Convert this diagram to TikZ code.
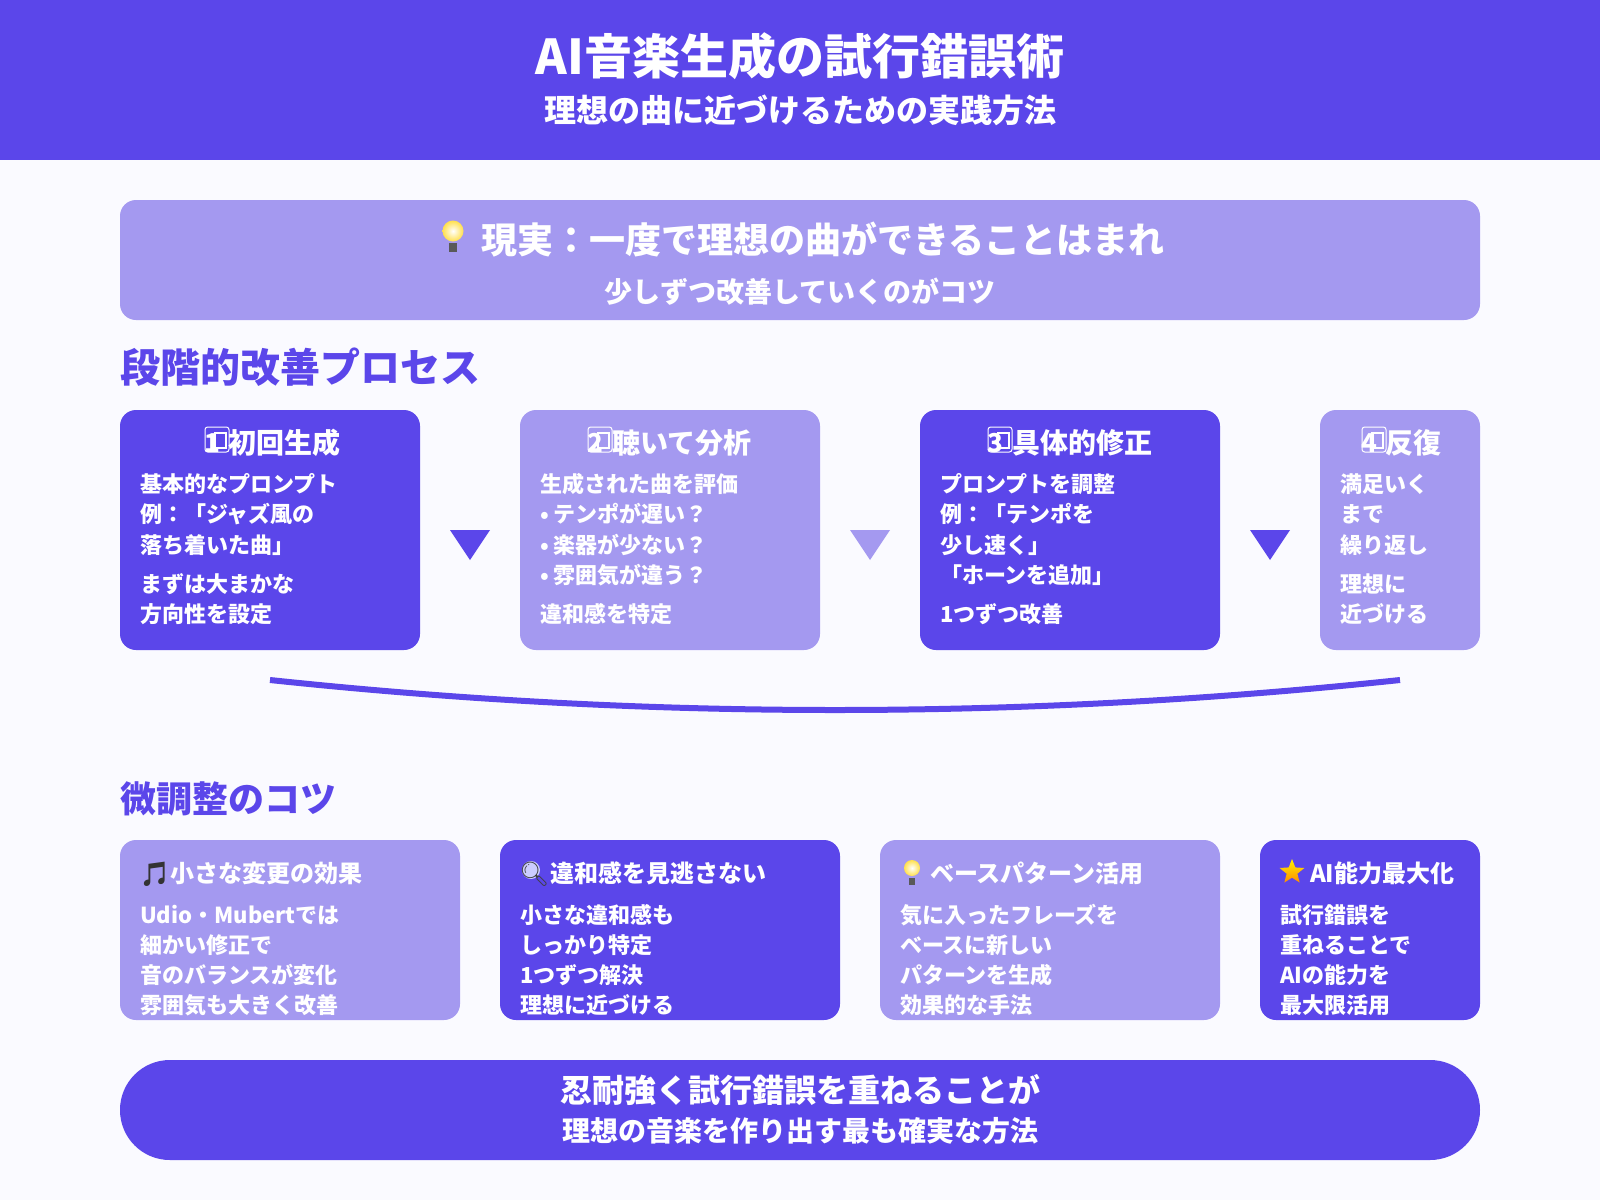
\documentclass[tikz,border=0pt]{standalone}
\usepackage{fontspec}
\setmainfont{Noto Sans CJK JP}
\newfontfamily\emojifont{Noto Emoji}
\usetikzlibrary{shapes.geometric}
\definecolor{deep}{HTML}{5B46EA}
\definecolor{soft}{HTML}{A499F0}
\definecolor{paper}{HTML}{FAFAFF}
\newcommand{\px}[1]{\fontsize{\fpeval{#1*0.75}}{\fpeval{#1*0.9}}\selectfont\bfseries}
\tikzset{
  x=0.75pt,y=-0.75pt,
  panel/.style={anchor=north west,inner sep=0,outer sep=0,rounded corners=12pt},
  deepbox/.style={panel,fill=deep},
  softbox/.style={panel,fill=soft},
  line/.style={anchor=base west,inner sep=0,outer sep=0,text=white},
  mid/.style={anchor=base,inner sep=0,outer sep=0,text=white},
  headingtext/.style={line,text=deep},
  body/.style={line,font=\px{22}},
  cardtitle/.style={line,font=\px{24}},
  steptitle/.style={line,font=\px{28}},
  pointer/.style={draw=none},
  capline/.style={draw=white,line width=0.75pt,rounded corners=2pt},
  capinner/.style={draw=white,line width=1.7pt},
}
\newcommand{\keycap}[3]{%
  \node[line,font=\px{26}] (#2) at (#1-1,452) {#3};
  \draw[capline] (#1,427) rectangle (#1+24,452);
  \draw[capinner] (#1+10,433) rectangle (#1+21,448);
}
\begin{document}
\begin{tikzpicture}
\useasboundingbox (0,0) rectangle (1600,1200);
\fill[paper] (0,0) rectangle (1600,1200);
\node[panel,fill=deep,rounded corners=0pt,minimum width=1200pt,minimum height=120pt] (header) at (0,0) {};
\node[mid,font=\px{48}] (title) at (800,74) {AI音楽生成の試行錯誤術};
\node[mid,font=\px{32}] (subtitle) at (800,122) {理想の曲に近づけるための実践方法};

\node[softbox,minimum width=1020pt,minimum height=90pt] (banner) at (120,200) {};
\shade[inner color=white,outer color=yellow!65!orange!70!white] (453,231) circle (10.5);
\fill[gray!70!black] (449,243) rectangle (457,252);
\node[line,font=\px{36}] (bannerone) at (481,253) {現実：一度で理想の曲ができることはまれ};
\node[mid,font=\px{28}] (bannertwo) at (800,302) {少しずつ改善していくのがコツ};

\node[headingtext,font=\px{40}] (headone) at (120,382) {段階的改善プロセス};

\node[deepbox,minimum width=225pt,minimum height=180pt] (s1) at (120,410) {};
\node[softbox,minimum width=225pt,minimum height=180pt] (s2) at (520,410) {};
\node[deepbox,minimum width=225pt,minimum height=180pt] (s3) at (920,410) {};
\node[softbox,minimum width=120pt,minimum height=180pt] (s4) at (1320,410) {};

\keycap{205}{k1}{1}
\node[steptitle] (t1) at (228,453) {初回生成};
\keycap{588}{k2}{2}
\node[steptitle] (t2) at (612,453) {聴いて分析};
\keycap{988}{k3}{3}
\node[steptitle] (t3) at (1012,453) {具体的修正};
\keycap{1362}{k4}{4}
\node[steptitle] (t4) at (1385,453) {反復};

\node[body] (a1) at (140,492) {基本的なプロンプト};
\node[body] (a2) at (140,522.5) {例：「ジャズ風の};
\node[body] (a3) at (140,553) {落ち着いた曲」};
\node[body] (a4) at (140,592) {まずは大まかな};
\node[body] (a5) at (140,622) {方向性を設定};

\node[body] (b1) at (540,492) {生成された曲を評価};
\node[body] (b2) at (540,522.5) {• テンポが遅い？};
\node[body] (b3) at (540,553) {• 楽器が少ない？};
\node[body] (b4) at (540,583) {• 雰囲気が違う？};
\node[body] (b5) at (540,622) {違和感を特定};

\node[body] (c1) at (940,492) {プロンプトを調整};
\node[body] (c2) at (940,522.5) {例：「テンポを};
\node[body] (c3) at (940,553) {少し速く」};
\node[body] (c4) at (940,583) {「ホーンを追加」};
\node[body] (c5) at (940,622) {1つずつ改善};

\node[body] (d1) at (1340,492) {満足いく};
\node[body] (d2) at (1340,522.5) {まで};
\node[body] (d3) at (1340,553) {繰り返し};
\node[body] (d4) at (1340,592) {理想に};
\node[body] (d5) at (1340,622) {近づける};

\fill[deep] (450,530) -- (490,530) -- (470,560) -- cycle;
\fill[soft] (850,530) -- (890,530) -- (870,560) -- cycle;
\fill[deep] (1250,530) -- (1290,530) -- (1270,560) -- cycle;

\coordinate (curveL) at (270,680);
\coordinate (curveR) at (1400,680);
\draw[deep,line width=4.5pt] (curveL) .. controls (646.7,720) and (1023.3,720) .. (curveR);

\node[headingtext,font=\px{36}] (headtwo) at (120,812) {微調整のコツ};

\node[softbox,minimum width=255pt,minimum height=135pt] (m1) at (120,840) {};
\node[deepbox,minimum width=255pt,minimum height=135pt] (m2) at (500,840) {};
\node[softbox,minimum width=255pt,minimum height=135pt] (m3) at (880,840) {};
\node[deepbox,minimum width=165pt,minimum height=135pt] (m4) at (1260,840) {};

\node[line,font={\emojifont\fontsize{18}{20}\selectfont},text=black!80] (e1) at (139,882) {🎵};
\node[cardtitle] (mt1) at (170,882) {小さな変更の効果};
\fill[blue!20!white] (531,870) circle (9);
\node[line,font={\emojifont\fontsize{18}{20}\selectfont},text=black!75] (e2) at (519,882) {🔍};
\node[cardtitle] (mt2) at (550,882) {違和感を見逃さない};
\shade[inner color=white,outer color=yellow!65!orange!70!white] (912,868) circle (8);
\fill[gray!70!black] (909,878) rectangle (915,885);
\node[cardtitle] (mt3) at (930,882) {ベースパターン活用};
\node[star,star points=5,star point ratio=2.3,minimum size=26*0.75pt,inner sep=0,top color=yellow!90!orange,bottom color=orange!90!yellow] (e4) at (1292,872) {};
\node[cardtitle] (mt4) at (1310,882) {AI能力最大化};

\node[body] (p1) at (140,923.5) {Udio・Mubertでは};
\node[body] (p2) at (140,953.5) {細かい修正で};
\node[body] (p3) at (140,983.5) {音のバランスが変化};
\node[body] (p4) at (140,1013) {雰囲気も大きく改善};

\node[body] (q1) at (520,923.5) {小さな違和感も};
\node[body] (q2) at (520,953.5) {しっかり特定};
\node[body] (q3) at (520,983.5) {1つずつ解決};
\node[body] (q4) at (520,1013) {理想に近づける};

\node[body] (r1) at (900,923.5) {気に入ったフレーズを};
\node[body] (r2) at (900,953.5) {ベースに新しい};
\node[body] (r3) at (900,983.5) {パターンを生成};
\node[body] (r4) at (900,1013) {効果的な手法};

\node[body] (u1) at (1280,923.5) {試行錯誤を};
\node[body] (u2) at (1280,953.5) {重ねることで};
\node[body] (u3) at (1280,983.5) {AIの能力を};
\node[body] (u4) at (1280,1013) {最大限活用};

\node[panel,fill=deep,rounded corners=37.4pt,minimum width=1020pt,minimum height=75pt] (pill) at (120,1060) {};
\node[mid,font=\px{32}] (pillone) at (800,1102) {忍耐強く試行錯誤を重ねることが};
\node[mid,font=\px{28}] (pilltwo) at (800,1141.5) {理想の音楽を作り出す最も確実な方法};
\end{tikzpicture}
\end{document}
